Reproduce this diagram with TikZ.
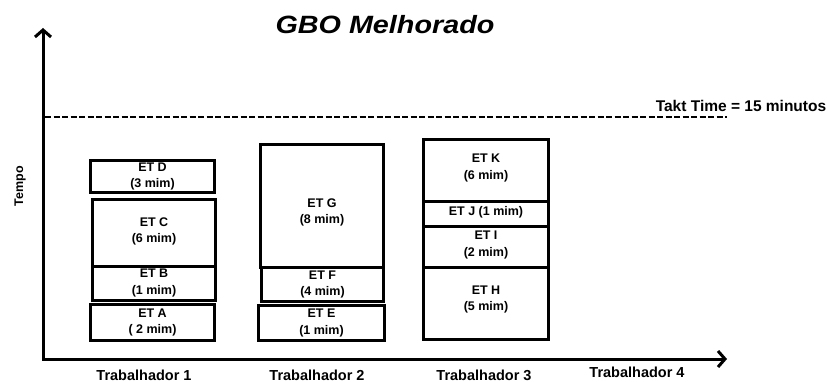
\documentclass[tikz,border=0pt]{standalone}
\usepackage{fontspec}
\setmainfont{Liberation Sans}
\usetikzlibrary{arrows.meta}
\newcommand\tbox[7]{\node[task, minimum width={#4-#2}, minimum height={#5-#3},
  label={[tasktext, yshift=#7]center:#6}] (#1) at ({(#2+#4)/2},{(#3+#5)/2}) {};}
\begin{document}
\begin{tikzpicture}[x=1pt,y=-1pt,
  axis/.style={line width=3pt, {Straight Barb[length=7pt,width=16pt]}-{Straight Barb[length=7pt,width=16pt]}},
  task/.style={draw, line width=3pt, inner sep=0pt},
  tasktext/.style={font=\bfseries\fontsize{12.5}{16.5}\selectfont, align=center, inner sep=0pt},
  lbl/.style={font=\bfseries\fontsize{14.5}{17}\selectfont, anchor=base},
  takt/.style={dashed, dash pattern=on 6pt off 2.5pt, line width=2.2pt}]
\useasboundingbox (0,0) rectangle (829,382);
% title
\node[anchor=base, font=\bfseries\itshape\fontsize{25}{30}\selectfont, xscale=1.15] (title) at (385,34) {GBO Melhorado};
% axes
\coordinate (ytip) at (43,28);
\coordinate (O) at (43,359);
\coordinate (xtip) at (727,359);
\draw[axis] (ytip) -- (O) -- (xtip);
% takt line
\coordinate (t1) at (45,117);
\coordinate (t2) at (727,117);
\draw[takt] (t1) -- (t2);
\node[anchor=base, font=\bfseries\fontsize{15.5}{18}\selectfont] (takt) at (741,112) {Takt Time = 15 minutos};
% y label
\node[rotate=90, font=\bfseries\fontsize{12.5}{15}\selectfont] (tempo) at (20,186) {Tempo};
% worker 1
\tbox{D}{90.5}{160.5}{214.5}{192.5}{ET D\\(3 mim)}{0pt}
\tbox{C}{92.5}{199.5}{215.5}{266}{ET C\\(6 mim)}{1.5pt}
\tbox{B}{92.5}{266}{215.5}{300.5}{ET B\\(1 mim)}{0.5pt}
\tbox{A}{90.5}{304}{214.5}{340.5}{ET A\\( 2 mim)}{0pt}
% worker 2
\tbox{G}{260.5}{144.5}{383.5}{267}{ET G\\(8 mim)}{-6.5pt}
\tbox{F}{261.5}{267}{383.5}{301.5}{ET F\\(4 mim)}{0pt}
\tbox{E}{258.5}{305}{384.5}{340.5}{ET E\\(1 mim)}{0pt}
% worker 3
\tbox{K}{423.5}{139.5}{548.5}{201}{ET K\\(6 mim)}{2.5pt}
\tbox{J}{423.5}{201}{548.5}{226}{ET J (1 mim)}{1.5pt}
\tbox{I}{423.5}{226}{548.5}{267}{ET I\\(2 mim)}{1.5pt}
\tbox{H}{423.5}{267}{548.5}{339.5}{ET H\\(5 mim)}{4pt}
% worker labels
\node[lbl] (w1) at (144,380) {Trabalhador 1};
\node[lbl] (w2) at (317,380) {Trabalhador 2};
\node[lbl] (w3) at (484,380) {Trabalhador 3};
\node[lbl] (w4) at (637,377) {Trabalhador 4};
\end{tikzpicture}
\end{document}
